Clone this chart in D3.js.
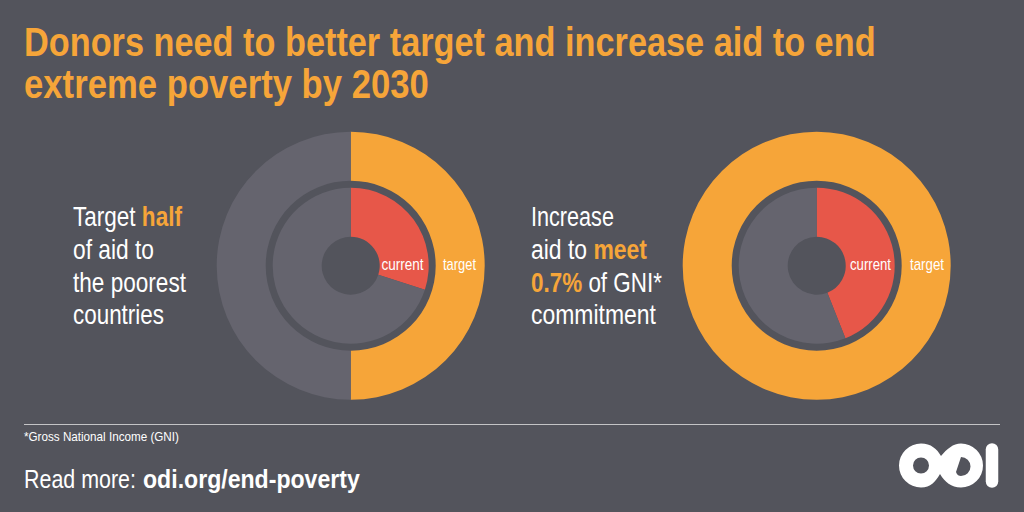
<!DOCTYPE html>
<html lang="en">
  <head>
    <meta charset="UTF-8" />
    <title>Donors need to better target</title>
    <style type="text/css">
      html, body { margin: 0; padding: 0; background: #53545c; }
      svg { display: block; }
      text { font-family: 'Liberation Sans', Arial, sans-serif; }
    </style>
  </head>
  <script src="https://d3js.org/d3.v7.min.js"></script>
  <body>
    <div class="chart"></div>
  </body>
  <script type="text/javascript">
    // share of the ring filled
    var donors = ['half', 'gni']
    var targetShare = [0.5, 1]
    var currentShare = [0.3, 0.44]

    var bg = '#53545c'
    var orange = '#f6a539'
    var red = '#e75749'
    var rest = '#65646e'

    var width = 1024
    var height = 512
    var svg = d3.select('.chart').append('svg')
      .attr('width', width)
      .attr('height', height)
      .style('background-color', bg)

    // text helper: real text, squeezed sideways to the measured width
    function put(x, y, size, w, parts, color, weight) {
      var t = svg.append('text').attr('font-size', size).attr('fill', color || '#fff')
        .attr('font-weight', weight || 'normal')
      parts.forEach(function (p) {
        t.append('tspan').text(p.s)
          .attr('fill', p.hi ? orange : null)
          .attr('font-weight', p.b ? 'bold' : null)
      })
      var k = w / t.node().getComputedTextLength()
      t.attr('transform', `translate(${x}, ${y}) scale(${k}, 1)`)
    }

    put(24, 56, 41, 852, [{ s: 'Donors need to better target and increase aid to end' }], orange, 'bold')
    put(24, 98, 41, 405, [{ s: 'extreme poverty by 2030' }], orange, 'bold')

    put(73, 226, 27.5, 109, [{ s: 'Target ' }, { s: 'half', hi: 1, b: 1 }])
    put(73, 259, 27.5, 81, [{ s: 'of aid to' }])
    put(73, 292, 27.5, 113, [{ s: 'the poorest' }])
    put(73, 324, 27.5, 91, [{ s: 'countries' }])

    put(531, 226, 27.5, 83, [{ s: 'Increase' }])
    put(531, 259, 27.5, 116, [{ s: 'aid to ' }, { s: 'meet', hi: 1, b: 1 }])
    put(531, 292, 27.5, 131, [{ s: '0.7%', hi: 1, b: 1 }, { s: ' of GNI*' }])
    put(531, 324, 27.5, 125, [{ s: 'commitment' }])

    // donuts
    var centres = d3.scaleOrdinal().domain(donors).range([350.7, 816.7])
    var pie = d3.pie().sort(null).value(function (d) { return d })
    var outerArc = d3.arc().innerRadius(85).outerRadius(134)
    var innerArc = d3.arc().innerRadius(29).outerRadius(78)

    donors.forEach(function (name, i) {
      var g = svg.append('g').attr('transform', `translate(${centres(name)}, 265.7)`)

      g.selectAll('.outer')
        .data(pie([targetShare[i], 1 - targetShare[i]]))
        .enter()
        .append('path')
        .attr('class', 'outer')
        .attr('fill', function (d, j) { return j === 0 ? orange : rest })
        .attr('d', outerArc)

      g.selectAll('.inner')
        .data(pie([currentShare[i], 1 - currentShare[i]]))
        .enter()
        .append('path')
        .attr('class', 'inner')
        .attr('fill', function (d, j) { return j === 0 ? red : rest })
        .attr('d', innerArc)
    })

    put(381.5, 270, 17, 42, [{ s: 'current' }])
    put(443, 270, 17, 33, [{ s: 'target' }])
    put(850, 270, 17, 41, [{ s: 'current' }])
    put(910, 270, 17, 34, [{ s: 'target' }])

    // footer
    svg.append('line')
      .attr('x1', 24).attr('x2', 1000)
      .attr('y1', 424.5).attr('y2', 424.5)
      .attr('stroke', '#c4c4c6')
      .attr('stroke-width', 1)

    put(24, 441, 13, 155, [{ s: '*Gross National Income (GNI)' }])
    put(24, 488, 26, 112, [{ s: 'Read more:' }])
    put(143, 488, 26, 217, [{ s: 'odi.org/end-poverty' }], '#fff', 'bold')

    // logo, one silhouette with the O and D holes cut out
    svg.append('path')
      .attr('fill', '#fff')
      .attr('fill-rule', 'evenodd')
      .attr('d', 'M921 443.5 C931 443.5 937 449 941 456 C947 449 953 443.5 961 443.5' +
        ' A22 22 0 0 1 961 487.5 C951 487.5 945 482 940 474 C935 482 931 487.5 921 487.5' +
        ' A22 22 0 0 1 921 443.5 Z' +
        ' M921 457.5 A8 8 0 0 0 921 473.5 A8 8 0 0 0 921 457.5 Z' +
        ' M961 457 A9.5 9.5 0 0 1 961 476 C959 476 957 475 956 472 Z')
    svg.append('line')
      .attr('x1', 992).attr('x2', 992)
      .attr('y1', 449.5).attr('y2', 481.5)
      .attr('stroke', '#fff')
      .attr('stroke-width', 12.5)
      .attr('stroke-linecap', 'round')
  </script>
</html>
